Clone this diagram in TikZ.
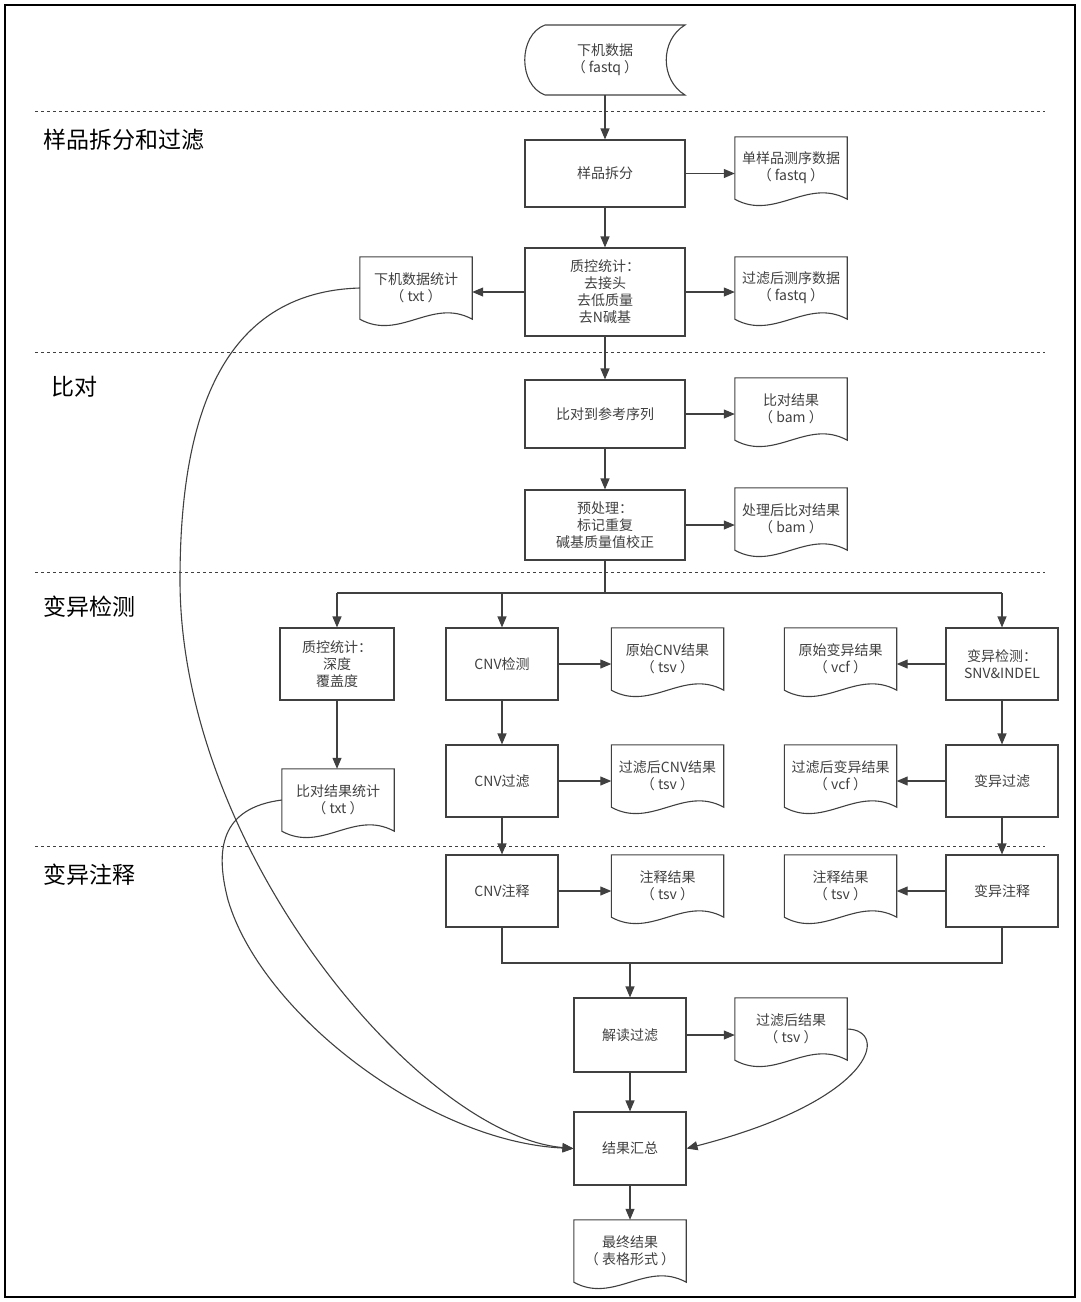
\documentclass[tikz,border=0pt]{standalone}
\usepackage{fontspec}
\setmainfont{Noto Sans CJK SC}
\usetikzlibrary{arrows.meta,calc}
\definecolor{ln}{HTML}{404040}
\tikzset{
  box/.style={draw=ln,line width=1.1pt,rectangle,minimum width=#1,align=center,font=\fontsize{14}{17}\selectfont,text=ln,inner sep=1pt},
  box/.default=160pt,
  doc/.style={rectangle,minimum width=112pt,minimum height=62pt,align=center,font=\fontsize{14}{17}\selectfont,text=ln,inner sep=1pt},
  arr/.style={draw=ln,line width=1.1pt,-{Triangle[length=11pt,width=9pt]}},
  sec/.style={font=\fontsize{23}{26}\selectfont,anchor=west,text=black},
  secline/.style={draw=ln,line width=0.8pt,dash pattern=on 3pt off 3pt},
}
\newcommand\docdraw[1]{\draw[ln,line width=1.1pt] (#1.south west) -- (#1.north west) -- (#1.north east) -- (#1.south east) .. controls +(-40pt,22pt) and +(40pt,-22pt) .. (#1.south west) -- cycle;}
\begin{document}
\begin{tikzpicture}[x=1pt,y=-1pt]
\useasboundingbox (0,0) rectangle (1080,1302);
\draw[black,line width=1.2pt] (5,5) rectangle (1075,1297);
% dashed lines
\foreach \yy in {111,352,572,846} \draw[secline] (35,\yy) -- (1045,\yy);
\node[sec] (s1) at (40,140) {样品拆分和过滤};
\node[sec] (s2) at (48,387) {比对};
\node[sec] (s3) at (40,607) {变异检测};
\node[sec] (s4) at (40,875) {变异注释};
% top storage
\node[doc,minimum width=150pt,minimum height=70pt] (raw) at (605,60) {下机数据\\（ fastq ）};
\draw[ln,line width=1.1pt] (545,25) -- (685,25) .. controls (660,40) and (660,80) .. (685,95) -- (545,95) .. controls (518,85) and (518,35) .. (545,25) -- cycle;
% main column
\node[box,minimum height=67pt] (split) at (605,173.5) {样品拆分};
\node[box,minimum height=88pt] (qc) at (605,292) {质控统计：\\去接头\\去低质量\\去N碱基};
\node[box,minimum height=68pt] (aln) at (605,414) {比对到参考序列};
\node[box,minimum height=70pt] (pre) at (605,525) {预处理：\\标记重复\\碱基质量值校正};
% docs right
\node[doc] (d1) at (791,168) {单样品测序数据\\（ fastq ）}; \docdraw{d1}
\node[doc] (d2) at (791,288) {过滤后测序数据\\（ fastq ）}; \docdraw{d2}
\node[doc] (d3) at (791,409) {比对结果\\（ bam ）}; \docdraw{d3}
\node[doc] (d4) at (791,519) {处理后比对结果\\（ bam ）}; \docdraw{d4}
\node[doc] (d0) at (416,288) {下机数据统计\\（ txt ）}; \docdraw{d0}
\draw[arr] (raw.south |- 95,95) -- (split);
\draw[arr] (split) -- (qc);
\draw[arr] (qc) -- (aln);
\draw[arr] (aln) -- (pre);
\draw[arr] (split.east) -- (split.east -| d1.west);
\draw[arr] (qc.east) -- (qc.east -| d2.west);
\draw[arr] (qc.west) -- (qc.west -| d0.east);
\draw[arr] (aln.east) -- (aln.east -| d3.west);
\draw[arr] (pre.east) -- (pre.east -| d4.west);
% variant detection
\node[box=114pt,minimum height=72pt] (qc2) at (337,664) {质控统计：\\深度\\覆盖度};
\node[box=112pt,minimum height=72pt] (cnv) at (502,664) {CNV检测};
\node[box=112pt,minimum height=72pt] (snv) at (1002,664) {变异检测：\\SNV\&INDEL};
\node[box=112pt,minimum height=72pt] (cnvf) at (502,781) {CNV过滤};
\node[box=112pt,minimum height=72pt] (snvf) at (1002,781) {变异过滤};
\node[box=112pt,minimum height=72pt] (cnva) at (502,891) {CNV注释};
\node[box=112pt,minimum height=72pt] (snva) at (1002,891) {变异注释};
\node[doc] (e1) at (667.5,659) {原始CNV结果\\（ tsv ）}; \docdraw{e1}
\node[doc] (e2) at (840.5,659) {原始变异结果\\（ vcf ）}; \docdraw{e2}
\node[doc] (e3) at (667.5,776) {过滤后CNV结果\\（ tsv ）}; \docdraw{e3}
\node[doc] (e4) at (840.5,776) {过滤后变异结果\\（ vcf ）}; \docdraw{e4}
\node[doc] (e5) at (667.5,886) {注释结果\\（ tsv ）}; \docdraw{e5}
\node[doc] (e6) at (840.5,886) {注释结果\\（ tsv ）}; \docdraw{e6}
\node[doc] (st2) at (338,800) {比对结果统计\\（ txt ）}; \docdraw{st2}
\coordinate (br) at (605,593);
\draw[ln,line width=1.1pt] (pre.south) -- (br);
\draw[ln,line width=1.1pt] (337,593) -- (1002,593);
\draw[arr] (337,593) -- (qc2.north);
\draw[arr] (502,593) -- (cnv.north);
\draw[arr] (1002,593) -- (snv.north);
\draw[arr] (qc2) -- (qc2 |- st2.north);
\draw[arr] (cnv) -- (cnvf);
\draw[arr] (cnvf) -- (cnva);
\draw[arr] (snv) -- (snvf);
\draw[arr] (snvf) -- (snva);
\draw[arr] (cnv.east) -- (cnv.east -| e1.west);
\draw[arr] (cnvf.east) -- (cnvf.east -| e3.west);
\draw[arr] (cnva.east) -- (cnva.east -| e5.west);
\draw[arr] (snv.west) -- (snv.west -| e2.east);
\draw[arr] (snvf.west) -- (snvf.west -| e4.east);
\draw[arr] (snva.west) -- (snva.west -| e6.east);
% merge
\node[box=112pt,minimum height=74pt] (interp) at (630,1035) {解读过滤};
\node[box=112pt,minimum height=73pt] (sum) at (630,1148.5) {结果汇总};
\node[doc] (f1) at (791,1029) {过滤后结果\\（ tsv ）}; \docdraw{f1}
\node[doc,minimum width=112pt] (fin) at (630,1251) {最终结果\\（ 表格形式 ）}; \docdraw{fin}
\coordinate (m) at (630,963);
\draw[ln,line width=1.1pt] (cnva.south) |- (m) -| (snva.south);
\draw[arr] (m) -- (interp.north);
\draw[arr] (interp.east) -- (interp.east -| f1.west);
\draw[arr] (interp) -- (sum);
\draw[arr] (sum) -- (fin);
% curves
\draw[arr] (d0.west) .. controls (220,292) and (180,420) .. (180,580) .. controls (180,850) and (420,1135) .. (sum.west);
\draw[arr] (st2.west) .. controls (220,808) and (215,850) .. (228,900) .. controls (262,1015) and (430,1142) .. (sum.west);
\draw[arr] (f1.east) .. controls (890,1030) and (875,1100) .. (sum.east);
\end{tikzpicture}
\end{document}
